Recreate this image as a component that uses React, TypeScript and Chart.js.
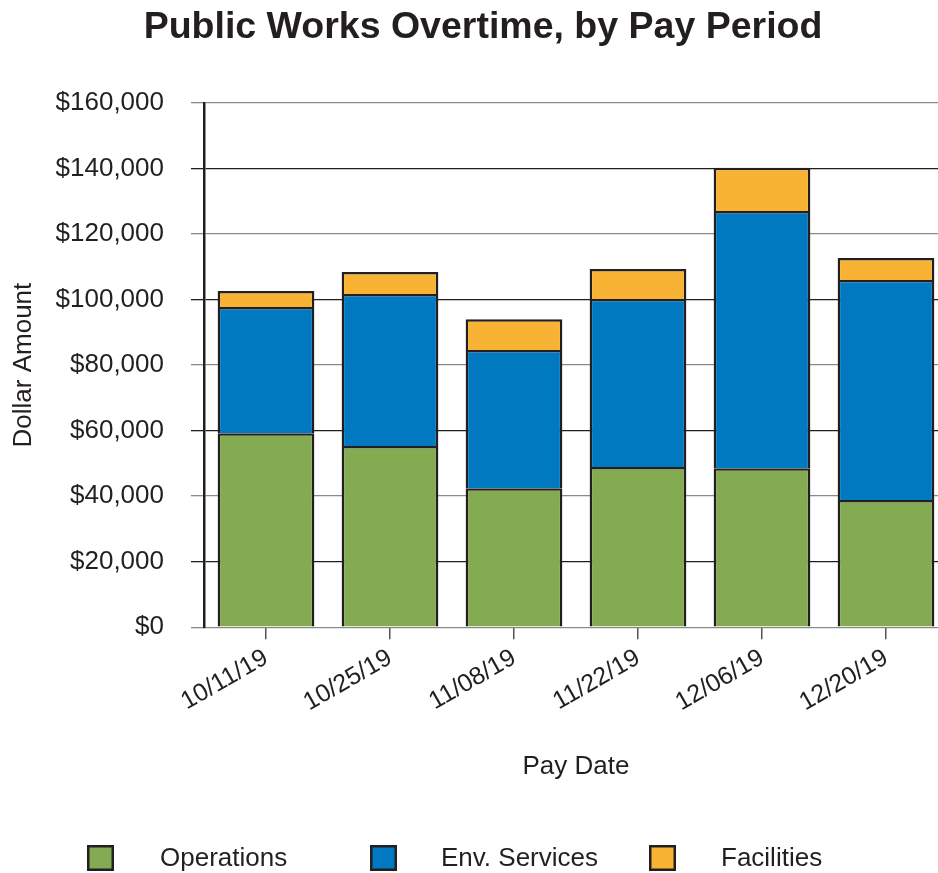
import React, { useEffect, useRef } from 'react';
import { Chart, registerables } from 'chart.js';

Chart.register(...registerables);

const categories = ['10/11/19', '10/25/19', '11/08/19', '11/22/19', '12/06/19', '12/20/19'];
const operations = [59200, 55300, 42400, 48900, 48500, 38800];
const envServices = [38500, 46400, 42200, 51300, 78500, 67200];
const facilities = [4900, 6700, 9400, 9100, 13200, 6700];
const seriesNames = ['Operations', 'Env. Services', 'Facilities'];
const seriesColors = ['#84AB51', '#0079C1', '#F9B334'];
const yTickStep = 20000;
const yMax = 160000;

const FONT = '"Liberation Sans", Arial, Helvetica, sans-serif';
const INK = '#231f20';

const legendPlugin = {
  id: 'bottomLegend',
  afterDraw(chart: any) {
    const ctx = chart.ctx;
    const boxX = [87, 370, 649];
    const textX = [160, 441, 721];
    const boxY = 845;
    ctx.save();
    chart.data.datasets.forEach((ds: any, i: number) => {
      ctx.fillStyle = ds.backgroundColor;
      ctx.fillRect(boxX[i], boxY, 27, 26);
      ctx.lineWidth = 2.5;
      ctx.strokeStyle = INK;
      ctx.strokeRect(boxX[i] + 1.25, boxY + 1.25, 27 - 2.5, 26 - 2.5);
      ctx.fillStyle = INK;
      ctx.font = `26px ${FONT}`;
      ctx.textBaseline = 'middle';
      ctx.textAlign = 'left';
      ctx.fillText(ds.label, textX[i], boxY + 14);
    });
    ctx.restore();
  },
};

export default function App() {
  const ref = useRef<HTMLCanvasElement | null>(null);

  useEffect(() => {
    if (!ref.current) return;
    const values = [operations, envServices, facilities];
    const chart = new Chart(ref.current, {
      type: 'bar',
      data: {
        labels: categories,
        datasets: values.map((v, i) => ({
          label: seriesNames[i],
          data: v,
          backgroundColor: seriesColors[i],
          borderColor: INK,
          borderWidth: 2.5,
          barPercentage: 0.78,
          categoryPercentage: 1,
        })),
      },
      options: {
        animation: false,
        responsive: false,
        devicePixelRatio: 1,
        layout: { padding: { left: 18, right: 30, top: 0, bottom: 91 } },
        plugins: {
          legend: { display: false },
          tooltip: { enabled: false },
          title: {
            display: true,
            text: 'Public Works Overtime, by Pay Period',
            color: INK,
            font: { family: FONT, size: 37.5, weight: 'bold' },
            padding: { top: 5, bottom: 53 },
          },
        },
        scales: {
          x: {
            stacked: true,
            grid: {
              display: true,
              drawOnChartArea: false,
              drawTicks: true,
              offset: false,
              tickLength: 12,
              color: '#555',
              lineWidth: 1.5,
            },
            border: { display: false },
            ticks: {
              color: INK,
              font: { family: FONT, size: 25 },
              minRotation: 30,
              maxRotation: 30,
              padding: 4,
            },
            title: {
              display: true,
              text: 'Pay Date',
              color: INK,
              font: { family: FONT, size: 26 },
              padding: { top: 29, bottom: 0 },
            },
          },
          y: {
            stacked: true,
            min: 0,
            max: yMax,
            afterFit: (scale: any) => {
              scale.width = 186;
            },
            grid: {
              color: (c: any) => (c.index % 2 === 0 ? '#8a8a8a' : INK),
              lineWidth: 1.3,
              tickLength: 13,
            },
            border: { display: true, color: INK, width: 2.5 },
            ticks: {
              stepSize: yTickStep,
              color: INK,
              font: { family: FONT, size: 26 },
              padding: 27,
              callback: (v: any) => '$' + Number(v).toLocaleString('en-US'),
            },
            title: {
              display: true,
              text: 'Dollar Amount',
              color: INK,
              font: { family: FONT, size: 26 },
              padding: { top: -10, bottom: 0 },
            },
          },
        },
      },
      plugins: [legendPlugin],
    } as any);
    return () => chart.destroy();
  }, []);

  return (
    <div
      style={{
        position: 'fixed',
        left: 0,
        top: 0,
        width: 938,
        height: 873,
        overflow: 'hidden',
        background: '#fff',
      }}
    >
      <canvas ref={ref} width={978} height={873} style={{ display: 'block', width: 978, height: 873 }} />
    </div>
  );
}
